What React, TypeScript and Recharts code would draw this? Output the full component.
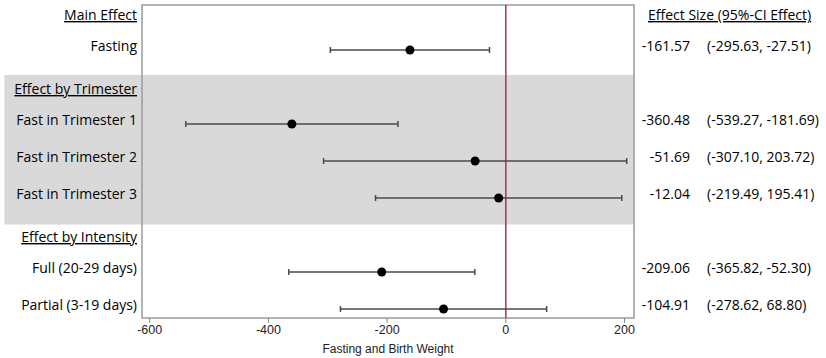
import { ScatterChart, Scatter, XAxis, YAxis, ErrorBar, ReferenceLine, ReferenceArea } from 'recharts';

const rowLabels = [
  'Main Effect',
  'Fasting',
  'Effect by Trimester',
  'Fast in Trimester 1',
  'Fast in Trimester 2',
  'Fast in Trimester 3',
  'Effect by Intensity',
  'Full (20-29 days)',
  'Partial (3-19 days)',
];
const headerRows = [0, 2, 6];
const estimates = [null, -161.57, null, -360.48, -51.69, -12.04, null, -209.06, -104.91];
const lowerCI = [null, -295.63, null, -539.27, -307.1, -219.49, null, -365.82, -278.62];
const upperCI = [null, -27.51, null, -181.69, 203.72, 195.41, null, -52.3, 68.8];
const xTicks = [-600, -400, -200, 0, 200];
const rightHeader = 'Effect Size (95%-CI Effect)';

const LABEL_FONT = '"Open Sans", sans-serif';
const AXIS_FONT = '"Liberation Sans", Arial, sans-serif';

const rows = rowLabels.map((label, i) => ({ row: i, label }));
const points = estimates
  .map((est, i) => ({
    row: i,
    est,
    err: est == null ? null : [est - (lowerCI[i] as number), (upperCI[i] as number) - est],
  }))
  .filter((d) => d.est != null);

const yDomain: [number, number] = [-0.216, 8.243];
const xDomain: [number, number] = [-613, 216];

function LeftTick(props: any) {
  const { x, y, payload } = props;
  const i = payload.value as number;
  const header = headerRows.includes(i);
  return (
    <text
      x={x}
      y={y}
      dy={header ? 7 : 1}
      textAnchor="end"
      fontFamily={LABEL_FONT}
      fontSize={14}
      fill="#000"
      textDecoration={header ? 'underline' : undefined}
    >
      {rowLabels[i]}
    </text>
  );
}

function RightTick(props: any) {
  const { x, y, payload } = props;
  const i = payload.value as number;
  if (i === 0) {
    return (
      <text x={x + 14} y={y} dy={7} fontFamily={LABEL_FONT} fontSize={14} fill="#000" textDecoration="underline">
        {rightHeader}
      </text>
    );
  }
  const est = estimates[i];
  if (est == null) return <g />;
  return (
    <g fontFamily={LABEL_FONT} fontSize={14} fill="#000">
      <text x={x + 56} y={y} dy={1} textAnchor="end">
        {est.toFixed(2)}
      </text>
      <text x={x + 73} y={y} dy={1}>
        {`(${(lowerCI[i] as number).toFixed(2)}, ${(upperCI[i] as number).toFixed(2)})`}
      </text>
    </g>
  );
}

export default function App() {
  return (
    <div style={{ position: 'absolute', left: 0, top: 0, background: '#fff' }}>
      <ScatterChart width={826} height={358} margin={{ top: 5, right: 0, bottom: 0, left: 0 }}>
        <ReferenceArea
          yAxisId="left"
          x1={-845}
          x2={xDomain[1]}
          y1={1.676}
          y2={5.716}
          fill="#d9d9d9"
          fillOpacity={1}
          stroke="none"
          ifOverflow="visible"
        />
        <ReferenceArea
          yAxisId="left"
          x1={xDomain[0]}
          x2={xDomain[1]}
          y1={yDomain[0]}
          y2={yDomain[1]}
          fill="none"
          stroke="#9a9a9a"
          strokeWidth={1.5}
          ifOverflow="visible"
        />
        <XAxis
          type="number"
          dataKey="est"
          domain={xDomain}
          allowDataOverflow
          ticks={xTicks}
          axisLine={false}
          tickSize={5}
          tickMargin={2}
          tickLine={{ stroke: '#888' }}
          tick={{ fontFamily: AXIS_FONT, fontSize: 12.5, fill: '#222' }}
          height={40}
          label={{
            value: 'Fasting and Birth Weight',
            position: 'insideBottom',
            offset: 5,
            style: { fontFamily: AXIS_FONT, fontSize: 12, fill: '#222' },
          }}
        />
        <YAxis
          yAxisId="left"
          type="number"
          dataKey="row"
          domain={yDomain}
          allowDataOverflow
          reversed
          ticks={rows.map((r) => r.row)}
          width={142}
          axisLine={false}
          tickLine={false}
          tickSize={0}
          tickMargin={5}
          tick={<LeftTick />}
        />
        <YAxis
          yAxisId="right"
          orientation="right"
          type="number"
          dataKey="row"
          domain={yDomain}
          allowDataOverflow
          reversed
          ticks={rows.map((r) => r.row)}
          width={192}
          axisLine={false}
          tickLine={false}
          tickSize={0}
          tickMargin={0}
          tick={<RightTick />}
        />
        <ReferenceLine yAxisId="left" x={0} stroke="#a8355a" strokeWidth={1.5} />
        <Scatter
          yAxisId="left"
          data={points}
          isAnimationActive={false}
          shape={(p: any) => <circle cx={p.cx} cy={p.cy} r={4.5} fill="#000" />}
        >
          <ErrorBar dataKey="err" direction="x" width={3} stroke="#4a4a4a" strokeWidth={1.5} isAnimationActive={false} />
        </Scatter>
        <Scatter yAxisId="right" data={points} isAnimationActive={false} shape={() => <g />} />
      </ScatterChart>
    </div>
  );
}
